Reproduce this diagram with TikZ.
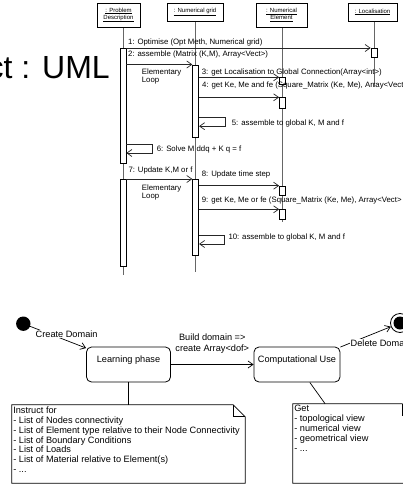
\documentclass[tikz,border=0pt]{standalone}
\usepackage{fontspec}
\setmainfont{Liberation Sans}
\usetikzlibrary{positioning}
\usetikzlibrary{arrows.meta}
\usetikzlibrary{backgrounds}

\begin{document}
\begin{tikzpicture}[x=1pt, y=-1pt,
		>={Straight Barb[length=5pt, width=7pt]},
		object/.style={draw, line width=0.7pt, inner sep=0pt, align=center,
			font=\fontsize{6}{7}\selectfont},
		actbar/.style={draw, line width=0.7pt, fill=white, minimum width=6pt,
			inner sep=0pt, anchor=north},
		lifeline/.style={draw=black!60, line width=0.8pt},
		msg/.style={->, draw=black!85, line width=0.7pt},
		msgtext/.style={anchor=base west, inner sep=0pt,
			font=\fontsize{7.8}{8}\selectfont},
		state/.style={draw, line width=0.8pt, rounded corners=5pt,
			minimum width=84pt, minimum height=35pt},
		statetext/.style={anchor=base, yshift=-15.6pt, inner sep=0pt,
			font=\fontsize{9.2}{10}\selectfont},
		trans/.style={->, line width=0.7pt},
		translabel/.style={inner sep=0.5pt, font=\fontsize{9.2}{10.7}\selectfont},
		note/.style={line width=0.7pt},
		notebox/.style={inner sep=0pt},
		notetext/.style={anchor=north west, align=left, inner sep=0pt,
			xshift=1.3pt, yshift=-1.5pt, font=\fontsize{9.2}{9.95}\selectfont}
	]
		
		\useasboundingbox (0,0) rectangle (403,485);
		\clip (0,0) rectangle (403,485);
		
		% title
		\node[anchor=base east, inner sep=0pt, font=\fontsize{32}{38}\selectfont] (title) at (110,78) {ct : UML};
		
		%objects
		\node[object, minimum width=43pt, minimum height=24pt] (pd) at (118.5,15) {\underline{: Problem}\\\underline{Description}};
		\node[object, minimum width=56pt, minimum height=18pt] (grid) at (195,12) {\underline{: Numerical grid}};
		\node[object, minimum width=51pt, minimum height=24pt] (elem) at (281.5,15) {\underline{: Numerical}\\\underline{Element}};
		\node[object, minimum width=49pt, minimum height=18pt] (loc) at (372.5,12) {\underline{: Localisation}};
		
		%activations
		\node[actbar, minimum height=115.3pt] (pd1) at (123,48) {};
		\node[actbar, minimum height=86.7pt] (pd2) at (123,179) {};
		\node[actbar, minimum height=72.8pt] (grid1) at (195.7,64.5) {};
		\node[actbar, minimum height=76pt] (grid2) at (195.7,179) {};
		\node[actbar, minimum height=6.7pt] (elem1) at (282.5,77.3) {};
		\node[actbar, minimum height=11pt] (elem2) at (282.5,97.3) {};
		\node[actbar, minimum height=9.3pt] (elem3) at (282.5,185.7) {};
		\node[actbar, minimum height=10pt] (elem4) at (282.5,209.3) {};
		\node[actbar, minimum height=9.3pt] (loc1) at (374,48) {};
		
		%lifelines
		\begin{scope}[on background layer]
			\draw[lifeline] (pd1.north |- pd.south) -- (pd1.north |- 0,275);
			\draw[lifeline] (grid1.north |- grid.south) -- (grid1.north |- 0,271.7);
			\draw[lifeline] (elem1.north |- elem.south) -- (elem1.north |- 0,221.7);
			\draw[lifeline] (loc1.north |- loc.south) -- (loc1.north |- 0,86.7);
		\end{scope}
		
		%calls
		\draw[msg] (pd1.east |- loc1.north) -- (loc1.north west);
		\draw[msg] (pd1.east |- grid1.north) -- (grid1.north west);
		\draw[msg] (grid1.east |- elem1.north) -- (elem1.north west);
		\draw[msg] (grid1.east |- elem2.north) -- (elem2.north west);
		\draw[msg] (pd2.north east) -- (grid2.north west);
		\draw[msg] (grid2.east |- elem3.north) -- (elem3.north west);
		\draw[msg] (grid2.east |- elem4.north) -- (elem4.north west);
		
		%self calls
		\draw[msg] ([yshift=20.6pt]grid1.south east) -- ++(25.8,0) |- ([yshift=11.8pt]grid1.south east);
		\draw[msg] ([yshift=19.3pt]pd1.south east) -- ++(26.2,0) |- ([yshift=11pt]pd1.south east);
		\draw[msg] ([yshift=20pt]grid2.south east) -- ++(25.6,0) |- ([yshift=11.7pt]grid2.south east);
		
		%call texts
		\node[msgtext] (m1) at (128,44) {1: Optimise (Opt Meth, Numerical grid)};
		\node[msgtext] (m2) at (128,56.7) {2: assemble (Matrix (K,M), Array<Vect>)};
		\node[msgtext, anchor=north west, align=left] (loop1) at (141.7,68.4) {Elementary\\Loop};
		\node[msgtext] (m3) at (201.7,74) {3: get Localisation to Global Connection(Array<int>)};
		\node[msgtext] (m4) at (202,87) {4: get Ke, Me and fe (Square\_Matrix (Ke, Me), Array<Vect>};
		\node[msgtext] (m5) at (231.7,125) {5: assemble to global K, M and f};
		\node[msgtext] (m6) at (156.7,151.7) {6: Solve M ddq + K q = f};
		\node[msgtext] (m7) at (128.3,172.7) {7: Update K,M or f};
		\node[msgtext, anchor=north west, align=left] (loop2) at (141.7,184.4) {Elementary\\Loop};
		\node[msgtext] (m8) at (201.7,176.7) {8: Update time step};
		\node[msgtext] (m9) at (201.7,202) {9: get Ke, Me or fe (Square\_Matrix (Ke, Me), Array<Vect> (};
		\node[msgtext] (m10) at (228.3,239.3) {10: assemble to global K, M and f};
		
		%states
		\node[state, label={[statetext]north:Learning phase}] (learn) at (128.5,364.5) {};
		\node[state, minimum width=86pt, label={[statetext]north:Computational Use}] (comp) at (297,364.5) {};
		\node[circle, fill, inner sep=0pt, minimum size=14.4pt] (init) at (23.3,323.7) {};
		\node[circle, draw, line width=0.8pt, inner sep=0pt, minimum size=19pt] (final) at (400,323) {};
		\node[circle, fill, inner sep=0pt, minimum size=13pt] (finaldot) at (final) {};
		
		%transitions
		\draw[trans] (init) -- (learn);
		\node[translabel, fill=white, anchor=base west] (create) at (35,337.3) {Create Domain};
		\draw[trans] (learn) -- node[translabel, above=10.9pt, align=center, inner sep=0pt] (build) {Build domain =>\\create Array<dof>} (comp);
		\draw[trans] (comp) -- (final);
		\node[translabel, fill=white, anchor=base west] (delete) at (350,346) {Delete Domain};
		
		%notes
		\node[notebox, minimum width=233pt, minimum height=78pt,
			label={[notetext]north west:{Instruct for\\- List of Nodes connectivity\\- List of Element type relative to their Node Connectivity\\- List of Boundary Conditions\\- List of Loads\\- List of Material relative to Element(s)\\- ...}}] (lnote) at (128.5,444) {};
		\node[notebox, minimum width=121pt, minimum height=79pt,
			label={[notetext]north west:{Get\\- topological view\\- numerical view\\- geometrical view\\- ...}}] (rnote) at (353.5,443.5) {};
		\draw[note] (lnote.south west) |- ([xshift=-12pt]lnote.north east) -- ([yshift=-12pt]lnote.north east) -- (lnote.south east) -- cycle;
		\draw[note] ([xshift=-12pt]lnote.north east) |- ([yshift=-12pt]lnote.north east);
		\draw[note] (rnote.south west) |- ([xshift=-12pt]rnote.north east) -- ([yshift=-12pt]rnote.north east) -- (rnote.south east) -- cycle;
		\draw[note] ([xshift=-12pt]rnote.north east) |- ([yshift=-12pt]rnote.north east);
		\draw[note] (learn) -- (lnote);
		\draw[note] (comp) -- (rnote);
	\end{tikzpicture}
\end{document}
